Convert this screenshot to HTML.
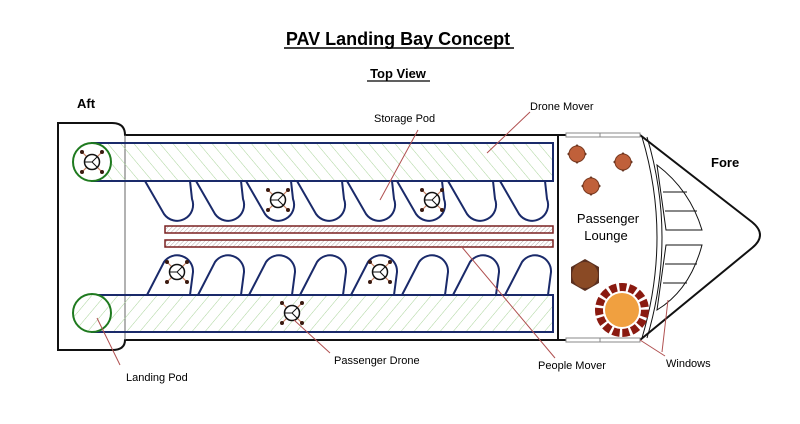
<!DOCTYPE html>
<html><head><meta charset="utf-8"><style>
html,body{margin:0;padding:0;background:#fff}
svg{display:block}
text{font-family:"Liberation Sans",Arial,sans-serif}
</style></head><body>
<svg width="800" height="424" viewBox="0 0 800 424" xmlns="http://www.w3.org/2000/svg">
<defs>
<pattern id="gh" width="10" height="10" patternUnits="userSpaceOnUse" patternTransform="rotate(-40)">
<line x1="0" y1="0" x2="0" y2="10" stroke="#a9d49a" stroke-width="1"/></pattern>
<pattern id="gh2" width="10" height="10" patternUnits="userSpaceOnUse" patternTransform="rotate(40)">
<line x1="0" y1="0" x2="0" y2="10" stroke="#a9d49a" stroke-width="1"/></pattern>
<pattern id="rh" width="3" height="3" patternUnits="userSpaceOnUse" patternTransform="rotate(45)">
<line x1="0" y1="0" x2="0" y2="3" stroke="#b8a8a8" stroke-width="1"/></pattern>
<g id="drone">
<line x1="-10" y1="-10" x2="10" y2="10" stroke="#c98060" stroke-width="1.2"/>
<line x1="-10" y1="10" x2="10" y2="-10" stroke="#c98060" stroke-width="1.2"/>
<circle cx="-10" cy="-10" r="2" fill="#3a1a10"/><circle cx="10" cy="-10" r="2" fill="#3a1a10"/>
<circle cx="-10" cy="10" r="2" fill="#3a1a10"/><circle cx="10" cy="10" r="2" fill="#3a1a10"/>
<circle r="7.5" fill="#fff" stroke="#111" stroke-width="1.5"/>
<path d="M-7 0 L0 0 L5 -5 M0 0 L5 5" stroke="#111" stroke-width="1" fill="none"/>
</g>
<path id="tl" d="M0 181 L19 214 A16 16 0 0 0 47 199 L45 181" fill="none" stroke="#1a2a6a" stroke-width="2"/>
<path id="bl" d="M0 295 L17 262 A16 16 0 0 1 46 272 L43 295" fill="none" stroke="#1a2a6a" stroke-width="2"/>
<g id="tab"><rect x="-7" y="-7" width="14" height="14" transform="rotate(45)" fill="#5a3020"/><circle r="8" fill="#c0603a" stroke="#7a3a20"/></g>
</defs>

<text x="398" y="45" text-anchor="middle" font-size="18" font-weight="bold">PAV Landing Bay Concept</text>
<line x1="284" y1="48" x2="514" y2="48" stroke="#000" stroke-width="1.6"/>
<text x="398" y="78" text-anchor="middle" font-size="13" font-weight="bold">Top View</text>
<line x1="367" y1="81" x2="430" y2="81" stroke="#000" stroke-width="1.2"/>
<text x="77" y="108" font-size="13" font-weight="bold">Aft</text>
<text x="711" y="167" font-size="13" font-weight="bold">Fore</text>

<path d="M58 123 L112 123 Q125 123 125 135 L640 135 L752 222 Q768 235 752 248 L640 340 L125 340 Q125 350 112 350 L58 350 Z" fill="#fff" stroke="#111" stroke-width="2"/>
<line x1="125" y1="135" x2="125" y2="340" stroke="#666" stroke-width="1"/>
<line x1="558" y1="135" x2="558" y2="340" stroke="#111" stroke-width="2"/>
<rect x="566" y="133" width="74" height="4" fill="#fff" stroke="#888"/>
<rect x="566" y="338" width="74" height="4" fill="#fff" stroke="#888"/>
<line x1="600" y1="133" x2="600" y2="137" stroke="#888"/><line x1="600" y1="338" x2="600" y2="342" stroke="#888"/>

<path d="M642 137 Q672 237 642 338" fill="none" stroke="#111" stroke-width="1"/>
<path d="M647 137 Q677 237 647 338" fill="none" stroke="#111" stroke-width="1"/>
<path d="M657 165 Q690 190 702 230 L666 230 Z" fill="#fff" stroke="#111" stroke-width="1"/>
<line x1="663" y1="192" x2="687" y2="192" stroke="#111"/><line x1="665" y1="211" x2="697" y2="211" stroke="#111"/>
<path d="M666 245 L702 245 Q690 290 657 310 Z" fill="#fff" stroke="#111" stroke-width="1"/>
<line x1="665" y1="264" x2="697" y2="264" stroke="#111"/><line x1="663" y1="283" x2="687" y2="283" stroke="#111"/>

<rect x="92" y="143" width="461" height="38" fill="url(#gh)" stroke="#1a2a6a" stroke-width="2"/>
<rect x="92" y="295" width="461" height="37" fill="url(#gh2)" stroke="#1a2a6a" stroke-width="2"/>
<circle cx="92" cy="162" r="19" fill="#fff" stroke="#1f7a1f" stroke-width="2"/>
<circle cx="92" cy="313" r="19" fill="#fff"/>
<circle cx="92" cy="313" r="19" fill="url(#gh2)" stroke="#1f7a1f" stroke-width="2"/>

<use href="#tl" x="145"/><use href="#tl" x="196"/><use href="#tl" x="246"/><use href="#tl" x="297"/>
<use href="#tl" x="347"/><use href="#tl" x="397"/><use href="#tl" x="448"/><use href="#tl" x="500"/>
<use href="#bl" x="147"/><use href="#bl" x="198"/><use href="#bl" x="249"/><use href="#bl" x="300"/>
<use href="#bl" x="351"/><use href="#bl" x="402"/><use href="#bl" x="453"/><use href="#bl" x="505"/>

<rect x="165" y="226" width="388" height="7" fill="url(#rh)" stroke="#7a2020" stroke-width="1.5"/>
<rect x="165" y="240" width="388" height="7" fill="url(#rh)" stroke="#7a2020" stroke-width="1.5"/>

<use href="#drone" x="92" y="162"/><use href="#drone" x="278" y="200"/><use href="#drone" x="432" y="200"/>
<use href="#drone" x="177" y="272"/><use href="#drone" x="380" y="272"/><use href="#drone" x="292" y="313"/>

<use href="#tab" x="577" y="154"/><use href="#tab" x="623" y="162"/><use href="#tab" x="591" y="186"/>
<g transform="translate(585,275)"><polygon points="0,-16 14,-8 14,8 0,16 -14,8 -14,-8" fill="#5a3020"/><circle r="13" fill="#8a4a25"/></g>
<g transform="translate(622,310)">
<circle r="23" fill="none" stroke="#8a1a10" stroke-width="8" stroke-dasharray="7 2.6"/>
<circle r="17" fill="#f0a040"/></g>
<text x="608" y="223" text-anchor="middle" font-size="13">Passenger</text>
<text x="606" y="240" text-anchor="middle" font-size="13">Lounge</text>

<g stroke="#b05050" stroke-width="1" fill="none">
<line x1="418" y1="130" x2="380" y2="200"/>
<line x1="530" y1="112" x2="487" y2="153"/>
<line x1="461" y1="246" x2="555" y2="358"/>
<line x1="97" y1="318" x2="120" y2="365"/>
<line x1="294" y1="320" x2="330" y2="353"/>
<line x1="640" y1="340" x2="665" y2="356"/>
<line x1="668" y1="300" x2="662" y2="352"/>
</g>
<text x="374" y="122" font-size="11">Storage Pod</text>
<text x="530" y="110" font-size="11">Drone Mover</text>
<text x="126" y="381" font-size="11">Landing Pod</text>
<text x="334" y="364" font-size="11">Passenger Drone</text>
<text x="538" y="369" font-size="11">People Mover</text>
<text x="666" y="367" font-size="11">Windows</text>
</svg>
</body></html>
